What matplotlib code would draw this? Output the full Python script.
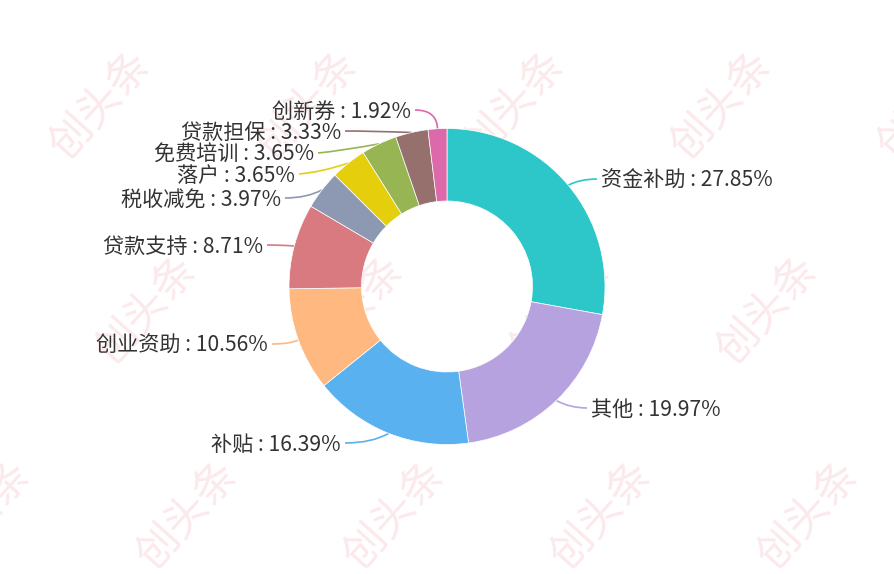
import numpy as np
import matplotlib
matplotlib.use("Agg")
import matplotlib.pyplot as plt
from matplotlib.path import Path
from matplotlib.patches import PathPatch

plt.rcParams['font.family'] = ['Noto Sans CJK SC', 'DejaVu Sans']

categories = ['资金补助', '其他', '补贴', '创业资助', '贷款支持', '税收减免', '落户', '免费培训', '贷款担保', '创新券']
values = [27.85, 19.97, 16.39, 10.56, 8.71, 3.97, 3.65, 3.65, 3.33, 1.92]
colors = ['#2ec7c9', '#b6a2de', '#5ab1ef', '#ffb980', '#d87a80', '#8d98b3', '#e5cf0d', '#97b552', '#95706d', '#dc69aa']

W, H = 894, 574
CX, CY, R, r = 447, 574 - 286.5, 158, 85.5
# layout only: leader bend and leader end in pixels from top-left
bends = [(580, 179), (570, 408), (372, 443), (290, 344), (282, 245), (307, 198), (322, 172), (340, 151), (370, 131), (437, 110)]
ends = [(597, 179), (587, 408), (345, 443), (272, 344), (267, 245), (285, 198), (299, 174), (318, 153), (345, 131), (415, 110)]

fig = plt.figure(figsize=(W / 100, H / 100), dpi=100, facecolor='white')
ax = fig.add_axes([0, 0, 1, 1])

# faint tiled watermark
for (x0, y0, n) in [(100, 105, 5), (146, 310, 4), (-20, 515, 5)]:
    for i in range(n):
        ax.text(x0 + 207 * i, H - y0, '创头条', fontsize=31, color='#fbe9eb', rotation=48,
                ha='center', va='center', zorder=0, rotation_mode='anchor')

wedges, _ = ax.pie(values, colors=colors, startangle=90, counterclock=False,
                   center=(CX, CY), radius=R, frame=False,
                   wedgeprops=dict(width=R - r, edgecolor='white', linewidth=0.5, zorder=3))
ax.set_xlim(0, W)
ax.set_ylim(0, H)
ax.set_aspect('equal')
ax.axis('off')

for w, name, val, col, b, e in zip(wedges, categories, values, colors, bends, ends):
    a = np.deg2rad((w.theta1 + w.theta2) / 2)
    start = (CX + R * np.cos(a), CY + R * np.sin(a))
    path = Path([start, (b[0], H - b[1]), (e[0], H - e[1])], [Path.MOVETO, Path.CURVE3, Path.CURVE3])
    ax.add_patch(PathPatch(path, fc='none', ec=col, lw=1.2, zorder=2))
    right = e[0] > CX
    ax.text(e[0] + (4 if right else -4), H - e[1] - 2, f'{name} : {val:.2f}%', fontsize=15.2, color='#333333',
            ha='left' if right else 'right', va='center', zorder=4)

fig.savefig('out.png', dpi=100)
